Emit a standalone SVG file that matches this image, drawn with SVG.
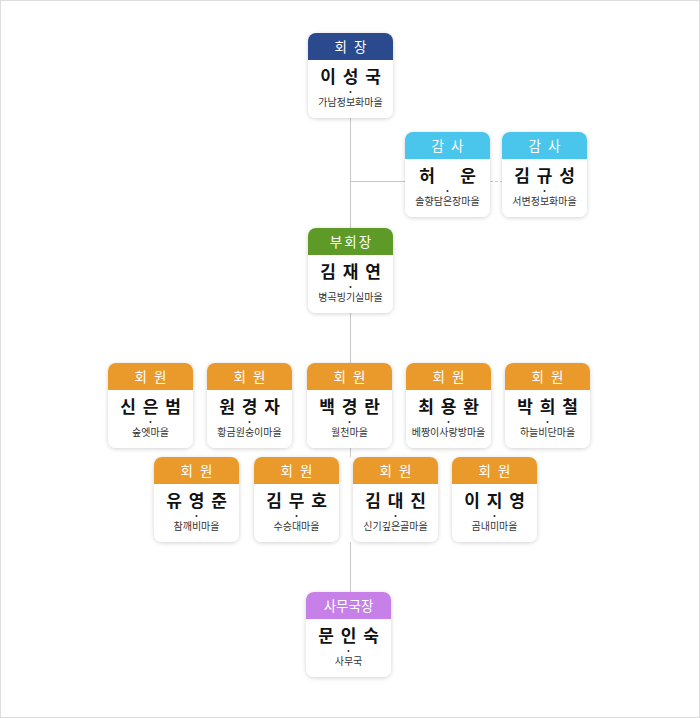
<svg xmlns="http://www.w3.org/2000/svg" width="700" height="718" viewBox="0 0 700 718">
<defs>
<filter id="sh" x="-20%" y="-20%" width="140%" height="140%">
<feDropShadow dx="0" dy="1" stdDeviation="2" flood-color="#000" flood-opacity="0.18"/>
</filter>
<style>
.box{fill:#fff;filter:url(#sh)}
.hd{font-family:"Noto Sans CJK KR","Noto Sans",sans-serif;font-size:13.5px;fill:#fff;text-anchor:middle;letter-spacing:2px}
.nm{font-family:"Noto Sans CJK KR","Noto Sans",sans-serif;font-size:17px;font-weight:bold;fill:#111;text-anchor:middle;letter-spacing:1.5px}
.sb{font-family:"Noto Sans CJK KR","Noto Sans",sans-serif;font-size:10px;fill:#333;text-anchor:middle}
.dot{fill:#222}
.ln{stroke:#c8c8c8;stroke-width:1;fill:none}
.pres{fill:#2b4a8e}.aud{fill:#4ac5ec}.vp{fill:#5e9a27}.mem{fill:#e99a2b}.sec{fill:#c680e8}
</style>
</defs>
<rect x="0.5" y="0.5" width="699" height="717" fill="#fff" stroke="#dcdcdc"/>
<g id="connectors">
<line class="ln" x1="350.5" y1="118" x2="350.5" y2="228"/>
<line class="ln" x1="350" y1="181.5" x2="405" y2="181.5"/>
<line class="ln" x1="490" y1="181.5" x2="502" y2="181.5" stroke-dasharray="3,2"/>
<line class="ln" x1="350.5" y1="313" x2="350.5" y2="363"/>
<line class="ln" x1="350.5" y1="448" x2="350.5" y2="457"/>
<line class="ln" x1="350.5" y1="542" x2="350.5" y2="592"/>
</g>
<g id="n-president" transform="translate(308,33)">
<rect class="box" width="85" height="85" rx="8"/>
<path class="pres" d="M0,27V8A8,8 0 0 1 8,0H77A8,8 0 0 1 85,8V27Z"/>
<text class="hd" x="43.5" y="19">회 장</text>
<text class="nm" x="43.25" y="50">이 성 국</text>
<circle class="dot" cx="42.5" cy="59" r="1"/>
<text class="sb" x="42.5" y="73">가남정보화마을</text>
</g>
<g id="n-audit1" transform="translate(405,132)">
<rect class="box" width="85" height="85" rx="8"/>
<path class="aud" d="M0,27V8A8,8 0 0 1 8,0H77A8,8 0 0 1 85,8V27Z"/>
<text class="hd" x="43.5" y="19">감 사</text>
<text class="nm" x="43.25" y="50">허 　운</text>
<circle class="dot" cx="42.5" cy="59" r="1"/>
<text class="sb" x="42.5" y="73">솔향담은장마을</text>
</g>
<g id="n-audit2" transform="translate(502,132)">
<rect class="box" width="85" height="85" rx="8"/>
<path class="aud" d="M0,27V8A8,8 0 0 1 8,0H77A8,8 0 0 1 85,8V27Z"/>
<text class="hd" x="43.5" y="19">감 사</text>
<text class="nm" x="43.25" y="50">김 규 성</text>
<circle class="dot" cx="42.5" cy="59" r="1"/>
<text class="sb" x="42.5" y="73">서변정보화마을</text>
</g>
<g id="n-vp" transform="translate(308,228)">
<rect class="box" width="85" height="85" rx="8"/>
<path class="vp" d="M0,27V8A8,8 0 0 1 8,0H77A8,8 0 0 1 85,8V27Z"/>
<text class="hd" x="43.5" y="19">부회장</text>
<text class="nm" x="43.25" y="50">김 재 연</text>
<circle class="dot" cx="42.5" cy="59" r="1"/>
<text class="sb" x="42.5" y="73">병곡빙기실마을</text>
</g>
<g id="n-m1" transform="translate(108,363)">
<rect class="box" width="85" height="85" rx="8"/>
<path class="mem" d="M0,27V8A8,8 0 0 1 8,0H77A8,8 0 0 1 85,8V27Z"/>
<text class="hd" x="43.5" y="19">회 원</text>
<text class="nm" x="43.25" y="50">신 은 범</text>
<circle class="dot" cx="42.5" cy="59" r="1"/>
<text class="sb" x="42.5" y="73">숲엣마을</text>
</g>
<g id="n-m2" transform="translate(207,363)">
<rect class="box" width="85" height="85" rx="8"/>
<path class="mem" d="M0,27V8A8,8 0 0 1 8,0H77A8,8 0 0 1 85,8V27Z"/>
<text class="hd" x="43.5" y="19">회 원</text>
<text class="nm" x="43.25" y="50">원 경 자</text>
<circle class="dot" cx="42.5" cy="59" r="1"/>
<text class="sb" x="42.5" y="73">황금원숭이마을</text>
</g>
<g id="n-m3" transform="translate(307,363)">
<rect class="box" width="85" height="85" rx="8"/>
<path class="mem" d="M0,27V8A8,8 0 0 1 8,0H77A8,8 0 0 1 85,8V27Z"/>
<text class="hd" x="43.5" y="19">회 원</text>
<text class="nm" x="43.25" y="50">백 경 란</text>
<circle class="dot" cx="42.5" cy="59" r="1"/>
<text class="sb" x="42.5" y="73">월천마을</text>
</g>
<g id="n-m4" transform="translate(406,363)">
<rect class="box" width="85" height="85" rx="8"/>
<path class="mem" d="M0,27V8A8,8 0 0 1 8,0H77A8,8 0 0 1 85,8V27Z"/>
<text class="hd" x="43.5" y="19">회 원</text>
<text class="nm" x="43.25" y="50">최 용 환</text>
<circle class="dot" cx="42.5" cy="59" r="1"/>
<text class="sb" x="42.5" y="73">베짱이사랑방마을</text>
</g>
<g id="n-m5" transform="translate(505,363)">
<rect class="box" width="85" height="85" rx="8"/>
<path class="mem" d="M0,27V8A8,8 0 0 1 8,0H77A8,8 0 0 1 85,8V27Z"/>
<text class="hd" x="43.5" y="19">회 원</text>
<text class="nm" x="43.25" y="50">박 희 철</text>
<circle class="dot" cx="42.5" cy="59" r="1"/>
<text class="sb" x="42.5" y="73">하늘비단마을</text>
</g>
<g id="n-m6" transform="translate(154,457)">
<rect class="box" width="85" height="85" rx="8"/>
<path class="mem" d="M0,27V8A8,8 0 0 1 8,0H77A8,8 0 0 1 85,8V27Z"/>
<text class="hd" x="43.5" y="19">회 원</text>
<text class="nm" x="43.25" y="50">유 영 준</text>
<circle class="dot" cx="42.5" cy="59" r="1"/>
<text class="sb" x="42.5" y="73">참깨비마을</text>
</g>
<g id="n-m7" transform="translate(254,457)">
<rect class="box" width="85" height="85" rx="8"/>
<path class="mem" d="M0,27V8A8,8 0 0 1 8,0H77A8,8 0 0 1 85,8V27Z"/>
<text class="hd" x="43.5" y="19">회 원</text>
<text class="nm" x="43.25" y="50">김 무 호</text>
<circle class="dot" cx="42.5" cy="59" r="1"/>
<text class="sb" x="42.5" y="73">수승대마을</text>
</g>
<g id="n-m8" transform="translate(353,457)">
<rect class="box" width="85" height="85" rx="8"/>
<path class="mem" d="M0,27V8A8,8 0 0 1 8,0H77A8,8 0 0 1 85,8V27Z"/>
<text class="hd" x="43.5" y="19">회 원</text>
<text class="nm" x="43.25" y="50">김 대 진</text>
<circle class="dot" cx="42.5" cy="59" r="1"/>
<text class="sb" x="42.5" y="73">신기깊은골마을</text>
</g>
<g id="n-m9" transform="translate(452,457)">
<rect class="box" width="85" height="85" rx="8"/>
<path class="mem" d="M0,27V8A8,8 0 0 1 8,0H77A8,8 0 0 1 85,8V27Z"/>
<text class="hd" x="43.5" y="19">회 원</text>
<text class="nm" x="43.25" y="50">이 지 영</text>
<circle class="dot" cx="42.5" cy="59" r="1"/>
<text class="sb" x="42.5" y="73">곰내미마을</text>
</g>
<g id="n-secretary" transform="translate(306,592)">
<rect class="box" width="85" height="85" rx="8"/>
<path class="sec" d="M0,27V8A8,8 0 0 1 8,0H77A8,8 0 0 1 85,8V27Z"/>
<text class="hd" x="42.5" y="19" style="letter-spacing:0">사무국장</text>
<text class="nm" x="43.25" y="50">문 인 숙</text>
<circle class="dot" cx="42.5" cy="59" r="1"/>
<text class="sb" x="42.5" y="73">사무국</text>
</g>
</svg>
